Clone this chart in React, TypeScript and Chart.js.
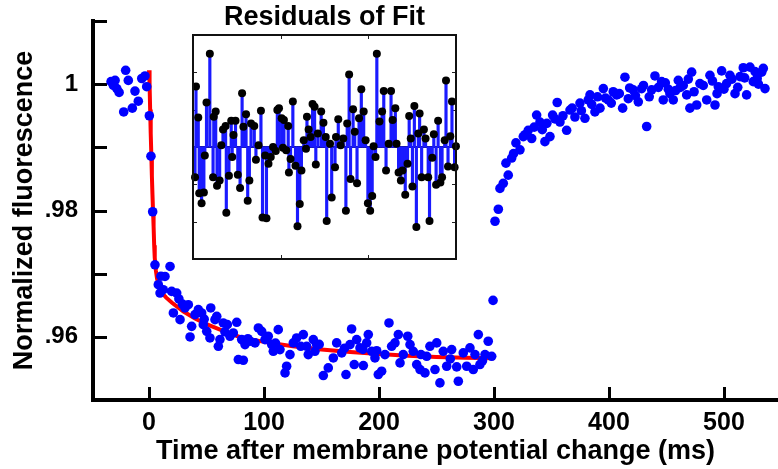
import React, { useEffect, useRef } from 'react';
import { Chart, registerables } from 'chart.js';

Chart.register(...registerables);

const FONT = '"Liberation Sans", Arial, Helvetica, sans-serif';

// ---- Main data (time in ms, normalized fluorescence) ----
const baselineTime = [-33, -31, -29.5, -28, -26, -22, -20.3, -18, -14.5, -12.2, -9.3, -6.3, -3.5, -2];
const baselineF = [1.0004, 0.9998, 1.0006, 0.9993, 0.9987, 0.9956, 1.0022, 1.0006, 0.9962, 0.9989, 0.9973, 1.0009, 1.0013, 0.9996];

const decayTime = [
  0.3, 1.7, 3.2, 5.2, 8.1, 9.6, 10.4, 12.4, 13.9, 18.3, 19.7, 21.2, 24.1, 26.0, 27.0, 29.0, 31.3, 34.2, 35.7, 37.1,
  40.0, 42.9, 45.8, 47.2, 48.0, 50.2, 53.0, 53.7, 57.4, 58.9, 60.3, 61.7, 64.6, 66.0, 68.1, 70.4, 73.3, 76.3, 77.7,
  80.6, 82.0, 83.5, 86.0, 87.8, 92.2, 95.1, 98.0, 100.9, 103.7, 106.7, 108.1, 110.0, 112.4, 113.9, 118.3, 119.7,
  122.6, 125.5, 128.4, 132.0, 134.2, 137.1, 138.5, 142.9, 144.3, 145.8, 148.0, 151.6, 155.9, 160.3, 163.2, 167.6,
  170.0, 171.3, 174.8, 176.2, 178.5, 180.6, 183.5, 186.0, 186.4, 189.3, 190.7, 193.7, 196.5, 198.0, 199.4, 202.3,
  205.2, 208.7, 211.0, 213.9, 216.8, 218.3, 221.1, 225.0, 227.0, 229.8, 232.8, 235.7, 236.5, 240.0, 241.5, 244.3,
  248.7, 250.2, 253.0, 255.9, 258.9, 262.0, 263.2, 267.6, 269.0, 273.3, 276.3, 279.1, 282.0, 283.5, 286.4, 287.8,
  290.0, 292.2, 295.0, 298.0, 299.2
];
const decayF = [
  0.9950, 0.9886, 0.9798, 0.9714, 0.96825, 0.96693, 0.9696, 0.96746, 0.96956, 0.97114, 0.96719, 0.96378, 0.96693, 0.9660, 0.96272, 0.9652, 0.96457, 0.96509, 0.95998, 0.96166,
  0.96351, 0.96430, 0.96378, 0.96193, 0.9628, 0.96087, 0.95982, 0.96457, 0.96272, 0.96324, 0.95850, 0.95956, 0.96220, 0.9608, 0.96193, 0.96009, 0.96061, 0.96230, 0.95640,
  0.95956, 0.95629, 0.95877, 0.9597, 0.95930, 0.95904, 0.96141, 0.96087, 0.95956, 0.96009, 0.95877, 0.95771, 0.9590, 0.96114, 0.95798, 0.95429, 0.95534,
  0.95719, 0.95904, 0.95982, 0.9585, 0.96035, 0.95850, 0.95719, 0.95956, 0.95771, 0.95877, 0.9588, 0.95387, 0.95508, 0.95666, 0.95904, 0.95746,
  0.9582, 0.95403, 0.95877, 0.96125, 0.95561, 0.95956, 0.95825, 0.9580, 0.95545, 0.95904, 0.96035, 0.95771, 0.95666, 0.9578, 0.95403, 0.95456,
  0.95719, 0.96220, 0.95850, 0.95904, 0.96035, 0.95587, 0.95719, 0.96009, 0.95877, 0.95771, 0.95561, 0.95482, 0.9572, 0.95429, 0.95692, 0.95850,
  0.95482, 0.95904, 0.95271, 0.95771, 0.95534, 0.9565, 0.95798, 0.95524, 0.95297, 0.95746, 0.95534, 0.95825, 0.95482, 0.95719, 0.96035, 0.95561,
  0.9562, 0.95719, 0.95930, 0.95692, 0.96577
];

const recoveryTime = [
  300.9, 303.8, 305.2, 308.1, 310.4, 312.4, 315.4, 317.0, 319.1, 322.6, 325.5, 327.0, 329.8, 332.8, 335.0, 337.1, 340.0, 342.0,
  344.3, 346.0, 348.7, 351.0, 353.0, 355.0, 357.4, 360.0, 363.2, 366.1, 368.0, 370.4, 374.8, 376.0, 379.1, 382.0, 383.5, 385.0,
  387.8, 390.0, 392.2, 395.1, 397.0, 399.4, 402.0, 403.7, 406.7, 409.0, 411.9, 413.9, 416.8, 418.0, 421.1, 423.0, 425.5, 428.4,
  430.0, 432.8, 435.0, 437.1, 440.0, 443.0, 445.8, 447.2, 449.0, 451.6, 453.0, 455.9, 458.0, 460.3, 462.0, 464.6, 467.6, 469.0,
  470.4, 471.9, 474.0, 476.3, 479.1, 482.0, 485.0, 487.8, 490.0, 492.2, 494.0, 495.1, 498.0, 500.0, 502.3, 505.2, 507.0, 509.6,
  512.0, 514.0, 516.8, 518.0, 519.7, 522.6, 525.5, 527.0, 528.9, 530.0, 532.8, 534.2, 535.7
];
const recoveryF = [
  0.9783, 0.9802, 0.9835, 0.9843, 0.9875, 0.9856, 0.9883, 0.9890, 0.9907, 0.9896, 0.9917, 0.9920, 0.9927, 0.9914, 0.9932, 0.9951, 0.9940, 0.9928,
  0.9909, 0.9938, 0.9917, 0.9951, 0.9945, 0.9971, 0.9940, 0.9950, 0.9927, 0.9959, 0.9962, 0.9948, 0.9970, 0.9958, 0.9946, 0.9975, 0.9983, 0.9968,
  0.9956, 0.9980, 0.9962, 0.9993, 0.9978, 0.9975, 0.9970, 0.9988, 0.9983, 0.9985, 0.9962, 1.0011, 0.9977, 0.9994, 0.9991, 0.9982, 0.9972, 0.9993,
  0.9998, 0.9933, 0.9980, 0.9991, 1.0013, 0.9995, 1.0004, 0.9975, 1.0002, 0.9992, 0.9985, 0.9975, 0.9990, 1.0006, 0.9995, 0.9998, 0.9983, 1.0008,
  0.9962, 1.0019, 0.9988, 0.9967, 1.0001, 0.9998, 0.9975, 1.0014, 1.0005, 0.9967, 0.9985, 0.9996, 1.0021, 0.9992, 1.0001, 1.0014, 1.0008, 0.9985,
  0.9995, 1.0012, 1.0026, 1.0010, 0.9983, 1.0027, 1.0004, 1.0020, 1.0009, 1.0000, 1.0019, 1.0025, 0.9993
];

// ---- Fitted curve (red) ----
const fitTime = [0, 0.5, 1, 1.5, 2, 2.5, 3, 3.5, 4, 4.5, 5, 6, 7, 8, 10, 12, 15, 20, 25, 30, 40, 50, 65, 80, 100, 125, 150, 175, 200, 225, 250, 275, 300];
const fitF = [1.0022, 1.0000, 0.9960, 0.9922, 0.9890, 0.9855, 0.9826, 0.9800, 0.9775, 0.9745, 0.9725, 0.9705, 0.9692, 0.9684, 0.9675, 0.9668, 0.9662, 0.9654, 0.9647, 0.9640, 0.9629, 0.9620, 0.9609, 0.9599, 0.9592, 0.9585, 0.9580, 0.9576, 0.9573, 0.9570, 0.9568, 0.9567, 0.9566];

// ---- Residuals (inset) ----
const residualTime = [
  2.3, 3.4, 6.0, 7.1, 9.8, 12.4, 13.5, 15.4, 19.2, 22.9, 23.7, 25.9, 27.4, 30.4, 32.3, 34.2, 37.2, 38.0, 41.0, 43.6,
  44.7, 46.2, 48.5, 51.1, 53.7, 56.0, 57.5, 60.5, 62.4, 64.3, 66.2, 69.9, 71.8, 74.8, 77.5, 79.3, 82.3, 83.8, 86.1, 88.7,
  91.3, 94.4, 96.2, 98.1, 101.1, 102.6, 103.7, 106.3, 108.6, 109.4, 111.3, 113.9, 116.9, 119.2, 121.8, 123.7, 126.3, 128.9, 130.0, 131.9,
  134.2, 136.4, 138.7, 140.1, 142.4, 146.2, 148.8, 151.4, 152.5, 156.3, 158.2, 162.0, 163.1, 165.7, 168.4, 171.4, 174.4, 175.9, 178.1, 179.7,
  182.6, 184.5, 187.1, 189.4, 192.0, 194.7, 196.9, 199.5, 202.1, 204.4, 206.0, 208.2, 209.7, 212.7, 215.7, 217.6, 220.2, 223.2, 225.9, 227.7,
  230.8, 232.2, 234.5, 237.1, 239.0, 242.1, 244.7, 246.6, 248.4, 250.3, 252.5, 254.8, 257.0, 258.5, 260.8, 263.4, 265.3, 268.3, 269.8, 272.9,
  274.7, 277.3, 279.6, 282.2, 284.1, 287.1, 288.6, 290.9, 293.5, 295.4, 298.4, 299.9
];
const residualValue = [
  -0.81, 1.62, 0.79, -1.24, -1.51, -1.22, -0.23, 1.19, 2.50, -0.81, 0.81, 0.95, -1.04, -0.90, 0.05, 0.47, 0.56, -1.76, -0.77, 0.70,
  -0.27, 0.32, 0.70, -0.74, -1.10, 1.44, 0.54, 0.88, -1.44, -0.90, 0.63, 0.56, -0.34, 0.05, 0.97, -1.89, -0.23, -1.91, -0.45, -0.27,
  0.0, -0.11, 0.99, 1.04, 0.77, -0.02, 0.72, -0.09, 0.56, -0.68, -0.32, 1.22, -0.50, -2.12, -1.53, -0.63, 0.18, -0.05, 0.81, 0.47,
  0.27, 1.15, 1.08, -0.47, 0.36, 0.95, 0.65, 0.27, -1.98, 0.09, -1.35, -0.54, 0.27, 0.74, 0.05, 0.23, -1.71, 0.63, 1.94, -0.86,
  1.01, 0.41, -0.97, 0.77, 1.55, 0.95, 0.18, -1.51, -1.71, -1.31, 0.02, -0.27, 2.50, 0.68, 0.95, 1.50, -0.63, 0.09, 1.50, 0.72,
  1.04, 0.09, -0.68, -0.90, -0.63, -1.28, -0.45, 0.83, 0.23, -1.06, 1.10, -2.14, 0.36, 0.90, -0.81, 0.47, 0.23, -0.81, -1.98, -0.29,
  0.34, -1.01, 0.70, -0.95, -0.81, 0.18, 1.78, -0.52, 0.29, 1.22, -0.54, 0.02
];

// ---- Axis settings / labels ----
const xTickValues = [0, 100, 200, 300, 400, 500];
const yTickValues = [0.95, 0.96, 0.97, 0.98, 0.99, 1.0, 1.01];
const yLabeledTicks = [1, 0.98, 0.96];
const yTickText = ['1', '.98', '.96'];
const insetXTicks = [100, 200];
const insetYTicks = [-2, -1, 0, 1, 2];

const pts = (xs: number[], ys: number[]) => xs.map((x, i) => ({ x, y: ys[i] }));

const inwardTicks = {
  id: 'inwardTicks',
  beforeDatasetsDraw(chart: any) {
    const { ctx, chartArea, scales } = chart;
    ctx.save();
    ctx.strokeStyle = '#000';
    ctx.lineWidth = 3;
    ctx.beginPath();
    scales.x.ticks.forEach((t: any) => {
      const px = Math.round(scales.x.getPixelForValue(t.value)) + 0.5;
      ctx.moveTo(px, chartArea.bottom);
      ctx.lineTo(px, chartArea.bottom - 13);
    });
    scales.y.ticks.forEach((t: any) => {
      const py = Math.round(scales.y.getPixelForValue(t.value)) + 0.5;
      ctx.moveTo(chartArea.left, py);
      ctx.lineTo(chartArea.left + 14, py);
    });
    ctx.stroke();
    ctx.restore();
  },
};

const insetFrame = {
  id: 'insetFrame',
  beforeDatasetsDraw(chart: any) {
    const { ctx, chartArea, scales } = chart;
    const { left, right, top, bottom } = chartArea;
    ctx.save();
    ctx.fillStyle = '#fff';
    ctx.fillRect(left, top, right - left, bottom - top);
    ctx.strokeStyle = '#222';
    ctx.lineWidth = 1;
    ctx.beginPath();
    insetXTicks.forEach((v) => {
      const px = Math.round(scales.x.getPixelForValue(v)) + 0.5;
      ctx.moveTo(px, top); ctx.lineTo(px, top + 4);
      ctx.moveTo(px, bottom); ctx.lineTo(px, bottom - 4);
    });
    insetYTicks.forEach((v) => {
      const py = Math.round(scales.y.getPixelForValue(v)) + 0.5;
      ctx.moveTo(left, py); ctx.lineTo(left + 4, py);
      ctx.moveTo(right, py); ctx.lineTo(right - 4, py);
    });
    ctx.stroke();
    const zy = scales.y.getPixelForValue(0);
    ctx.strokeStyle = '#14148c';
    ctx.lineWidth = 2;
    ctx.beginPath();
    ctx.moveTo(left, zy); ctx.lineTo(right, zy);
    ctx.stroke();
    ctx.restore();
  },
  afterDraw(chart: any) {
    const { ctx, chartArea } = chart;
    const { left, right, top, bottom } = chartArea;
    ctx.save();
    ctx.strokeStyle = '#111';
    ctx.lineWidth = 2;
    ctx.strokeRect(left, top, right - left, bottom - top);
    ctx.restore();
  },
};

export default function App() {
  const mainRef = useRef<HTMLCanvasElement | null>(null);
  const insetRef = useRef<HTMLCanvasElement | null>(null);

  useEffect(() => {
    const xTickFont = { family: FONT, size: 25, weight: 'bold' as const };
    const yTickFont = { family: FONT, size: 24, weight: 'bold' as const };
    const titleFont = { family: FONT, size: 27, weight: 'bold' as const };
    const main = new Chart(mainRef.current!, {
      type: 'scatter',
      data: {
        datasets: [
          {
            type: 'line',
            data: pts(fitTime, fitF),
            borderColor: '#ff0000',
            borderWidth: 4,
            pointRadius: 0,
            showLine: true,
            tension: 0,
            order: 2,
          } as any,
          {
            type: 'scatter',
            data: [...pts(baselineTime, baselineF), ...pts(decayTime, decayF), ...pts(recoveryTime, recoveryF)],
            backgroundColor: '#0000ff',
            borderWidth: 0,
            pointRadius: 4.8,
            order: 1,
            clip: false,
          } as any,
        ],
      },
      options: {
        animation: false,
        responsive: false,
        devicePixelRatio: 1,
        events: [],
        layout: { autoPadding: false, padding: { top: 21, right: 0, left: 0, bottom: 0 } },
        plugins: { legend: { display: false }, tooltip: { enabled: false } },
        scales: {
          x: {
            type: 'linear',
            min: -48.7,
            max: 547,
            grid: { display: false, drawTicks: false },
            border: { display: true, color: '#000', width: 4 },
            ticks: { font: xTickFont, color: '#000', padding: 8, maxRotation: 0, autoSkip: false },
            afterBuildTicks: (s: any) => { s.ticks = xTickValues.map((v) => ({ value: v })); },
            title: { display: true, text: 'Time after membrane potential change (ms)', font: titleFont, color: '#000', padding: { top: 0, bottom: 1 } },
            afterFit: (s: any) => { s.height = 69; s.paddingLeft = 0; s.paddingRight = 0; },
          },
          y: {
            type: 'linear',
            min: 0.95,
            max: 1.01,
            grid: { display: false, drawTicks: false },
            border: { display: true, color: '#000', width: 4 },
            ticks: {
              font: yTickFont,
              color: '#000',
              padding: 15,
              autoSkip: false,
              callback: (v: any) => {
                const i = yLabeledTicks.findIndex((t) => Math.abs(t - Number(v)) < 1e-6);
                return i >= 0 ? yTickText[i] : '';
              },
            },
            afterBuildTicks: (s: any) => { s.ticks = yTickValues.map((v) => ({ value: v })); },
            title: { display: true, text: 'Normalized fluorescence', font: titleFont, color: '#000', padding: { top: 8, bottom: 0 } },
            afterFit: (s: any) => { s.width = 93; s.paddingTop = 0; s.paddingBottom = 0; },
          },
        },
      },
      plugins: [inwardTicks],
    } as any);

    const residPts = pts(residualTime, residualValue);
    const inset = new Chart(insetRef.current!, {
      type: 'bar',
      data: {
        datasets: [
          {
            type: 'bar',
            data: residPts,
            backgroundColor: '#1a1aff',
            barThickness: 2.5,
            grouped: false,
            order: 2,
          } as any,
          {
            type: 'scatter',
            data: residPts,
            backgroundColor: '#000',
            borderWidth: 0,
            pointRadius: 4,
            order: 1,
            clip: false,
          } as any,
        ],
      },
      options: {
        animation: false,
        responsive: false,
        devicePixelRatio: 1,
        events: [],
        layout: { autoPadding: false, padding: { left: 10, right: 14, top: 0, bottom: 9 } },
        plugins: {
          legend: { display: false },
          tooltip: { enabled: false },
          title: {
            display: true,
            text: 'Residuals of Fit',
            color: '#000',
            font: { family: FONT, size: 27, weight: 'bold' },
            padding: { top: 1, bottom: 1.6 },
          },
        },
        scales: {
          x: { type: 'linear', min: 0, max: 300, display: false, offset: false },
          y: { type: 'linear', min: -3, max: 3, display: false },
        },
      },
      plugins: [insetFrame],
    } as any);

    return () => {
      main.destroy();
      inset.destroy();
    };
  }, []);

  return (
    <div style={{ position: 'absolute', left: 0, top: 0, width: 778, height: 469, background: '#fff' }}>
      <canvas ref={mainRef} width={778} height={469} style={{ position: 'absolute', left: 0, top: 0, display: 'block' }} />
      <canvas ref={insetRef} width={287} height={268} style={{ position: 'absolute', left: 183, top: 0, display: 'block' }} />
    </div>
  );
}
